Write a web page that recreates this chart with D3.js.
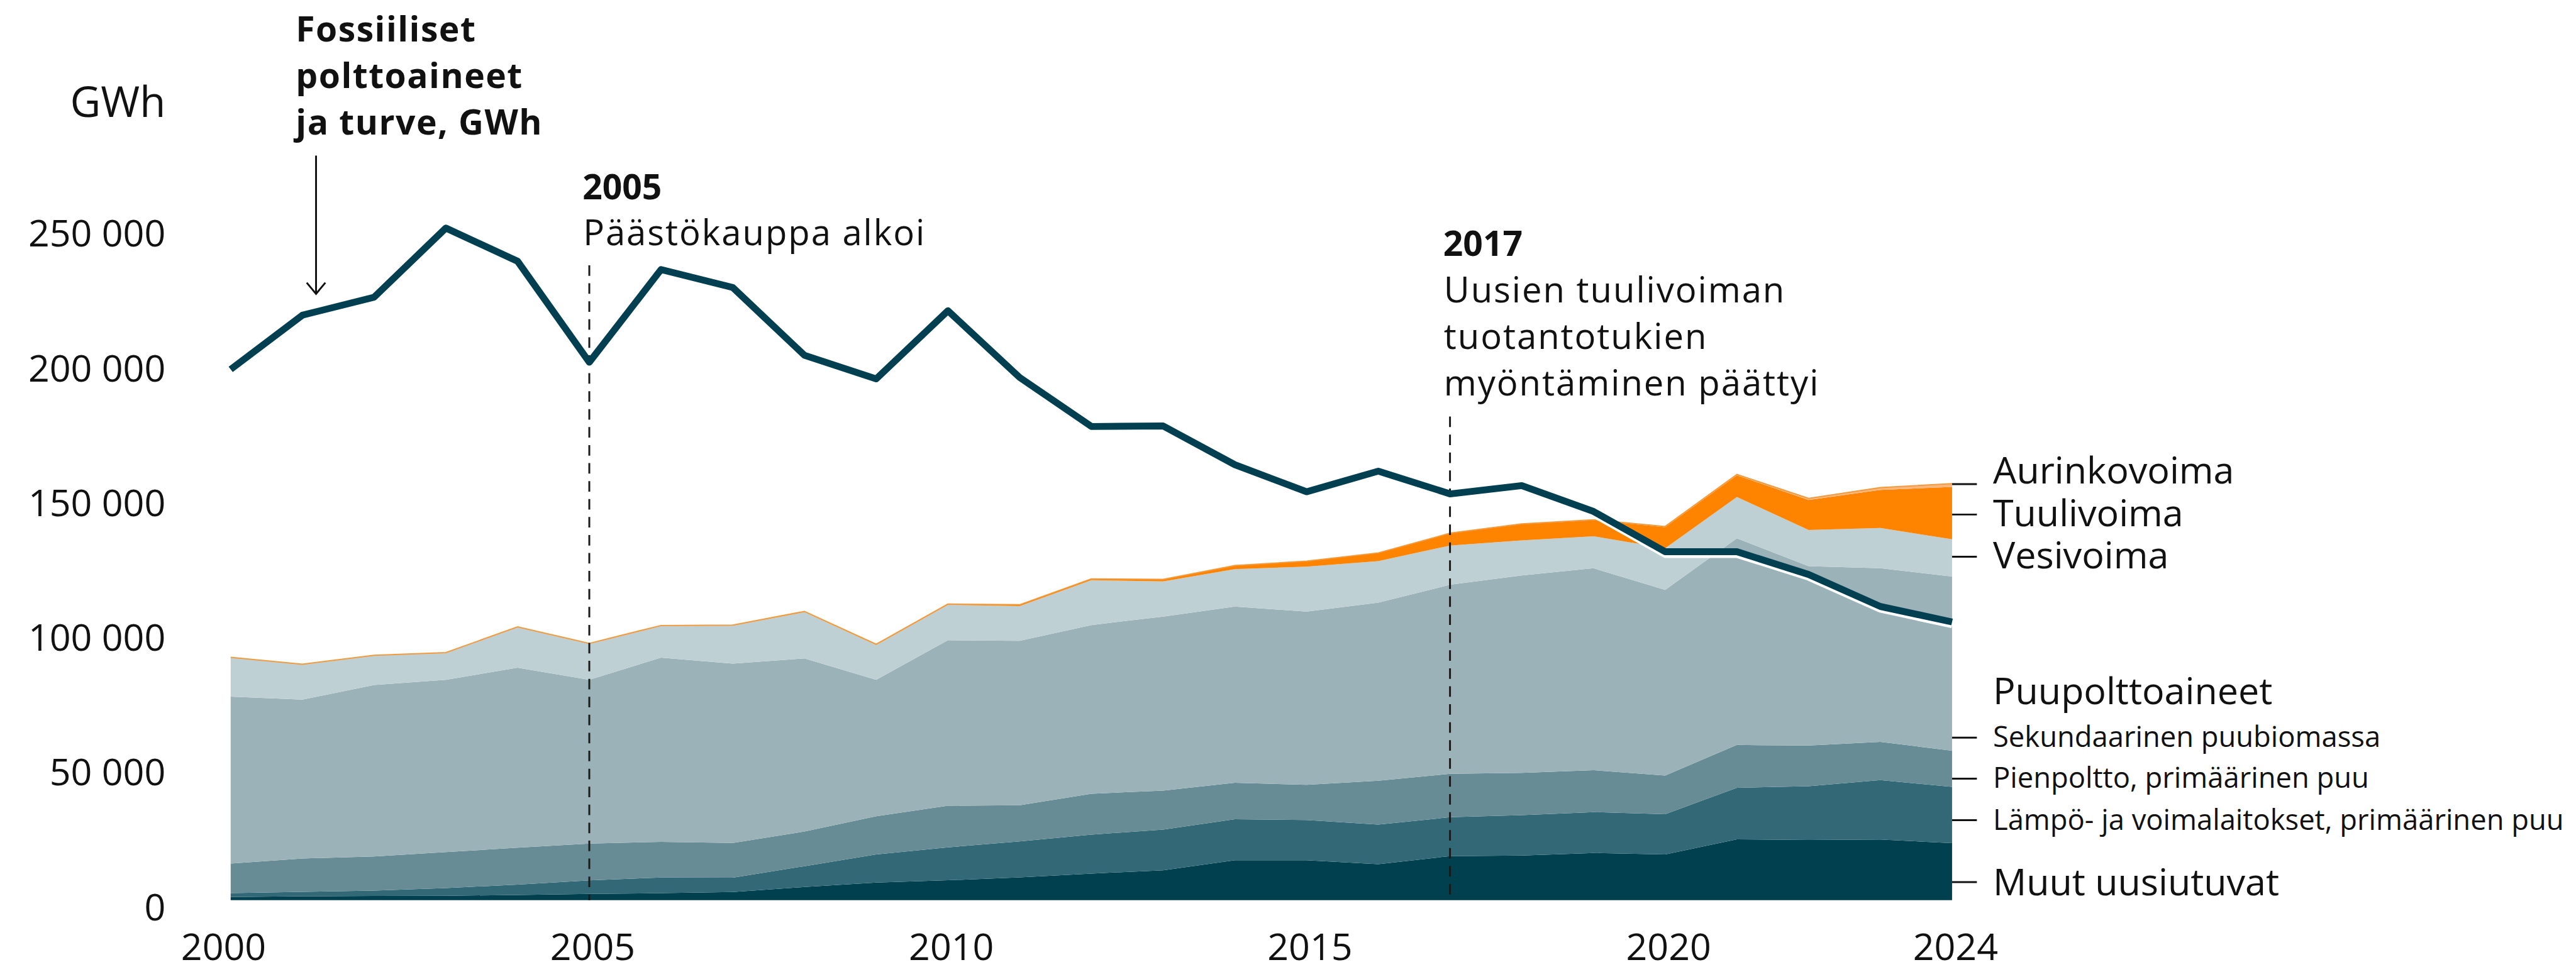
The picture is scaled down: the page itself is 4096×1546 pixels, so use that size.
<!DOCTYPE html>
<html>
<head>
<meta charset="utf-8">
<script src="https://cdn.jsdelivr.net/npm/d3@7"></script>
<style>
  body { margin: 0; background: #fff; }
  svg text { font-family: "Open Sans", "DejaVu Sans", sans-serif; fill: #111; }
</style>
</head>
<body>
<div id="chart"></div>
<script>
// ---- data (GWh) ----
const years = [2000, 2001, 2002, 2003, 2004, 2005, 2006, 2007, 2008, 2009, 2010, 2011, 2012,
               2013, 2014, 2015, 2016, 2017, 2018, 2019, 2020, 2021, 2022, 2023, 2024];

const muut          = [1150, 1430, 1530, 1630, 1910, 2300, 2580, 3000, 4870, 6500, 7370, 8450, 9870,
                       11080, 14800, 14800, 13340, 16340, 16570, 17490, 16950, 22550, 22320, 22480, 21170];
const lampo         = [1430, 1630, 2010, 2860, 3820, 5060, 5820, 5300, 7730, 10450, 12230, 13350, 14430,
                       15120, 15220, 14920, 14730, 14420, 14950, 15180, 14960, 19170, 19950, 22090, 20870];
const pienpoltto    = [10970, 12400, 12680, 13340, 13730, 13630, 13250, 12900, 12860, 14200, 15450, 13400, 15200,
                       14420, 13550, 13060, 16280, 16110, 15730, 15580, 14340, 15880, 15100, 14180, 13410];
const sekundaarinen = [62010, 58950, 63630, 63930, 66790, 60770, 68350, 66600, 64240, 50650, 61400, 61050, 62600,
                       64630, 65390, 64320, 66100, 70180, 73250, 74930, 68870, 76700, 66580, 64430, 64660];
const vesivoima     = [14500, 13080, 10970, 10030, 15060, 13360, 11780, 14100, 17200, 12900, 13150, 12900, 16650,
                       13050, 13890, 16680, 15400, 14570, 13040, 11890, 15480, 15350, 13420, 14960, 13810];
const tuulivoima    = [80, 70, 60, 90, 120, 170, 150, 190, 260, 280, 290, 480, 490,
                       770, 1300, 2000, 3000, 4500, 5980, 5940, 7830, 8030, 11130, 14110, 19460];
const aurinkovoima  = [0, 0, 0, 0, 0, 0, 0, 0, 0, 0, 10, 10, 10,
                       10, 20, 30, 40, 70, 110, 160, 250, 330, 600, 900, 1200];

const fossiiliset   = [197000, 217100, 223800, 249450, 237140, 199640, 234050, 227380, 202210, 193470, 218760, 193990, 175800,
                       176000, 161620, 151570, 159230, 150790, 153860, 144270, 129320, 129320, 120870, 109000, 103240];

const keys = ["muut", "lampo", "pienpoltto", "sekundaarinen", "vesivoima", "tuulivoima", "aurinkovoima"];
const colors = ["#00404f", "#336877", "#688c95", "#9bb2b8", "#bfd0d4", "#fe8400", "#fbb57d"];

const yTicks = [0, 50000, 100000, 150000, 200000, 250000];
const xTicks = [2000, 2005, 2010, 2015, 2020, 2024];

// right-hand labels: text, tick y, baseline y, big/small
const seriesLabels = [
    {text: "Aurinkovoima", tick: 781, base: 780, big: true},
    {text: "Tuulivoima", tick: 830, base: 849, big: true},
    {text: "Vesivoima", tick: 898, base: 917, big: true},
    {text: "Puupolttoaineet", tick: null, base: 1136, big: true},
    {text: "Sekundaarinen puubiomassa", tick: 1190, base: 1205, big: false},
    {text: "Pienpoltto, primäärinen puu", tick: 1256, base: 1271, big: false},
    {text: "Lämpö- ja voimalaitokset, primäärinen puu", tick: 1323, base: 1339, big: false},
    {text: "Muut uusiutuvat", tick: 1423, base: 1444, big: true}
];

const events = [
    {year: 2005, top: 428, base: 321, title: "2005", lines: ["Päästökauppa alkoi"]},
    {year: 2017, top: 672, base: 413, title: "2017", lines: ["Uusien tuulivoiman", "tuotantotukien", "myöntäminen päättyi"]}
];

// ---- layout (reference pixels, scaled down to the window) ----
const scale = 0.986;
const width = 4154, height = 1568;

const svg = d3.select("#chart").append("svg")
    .attr("width", Math.round(width * scale))
    .attr("height", Math.round(height * scale));

const g = svg.append("g").attr("transform", `scale(${scale})`);

const x = d3.scaleLinear().domain([2000, 2024]).range([372, 3148]);
const y = d3.scaleLinear().domain([0, 250000]).range([1452, 365.5]);

const table = years.map((yr, i) => ({
    year: yr,
    muut: muut[i], lampo: lampo[i], pienpoltto: pienpoltto[i], sekundaarinen: sekundaarinen[i],
    vesivoima: vesivoima[i], tuulivoima: tuulivoima[i], aurinkovoima: aurinkovoima[i]
}));

const stacked = d3.stack().keys(keys)(table);

const area = d3.area()
    .x(d => x(d.data.year))
    .y0(d => y(d[0]))
    .y1(d => y(d[1]));

g.selectAll(".layer")
    .data(stacked)
    .enter().append("path")
    .attr("class", "layer")
    .attr("fill", (d, i) => colors[i])
    .attr("d", area);

// thin orange edge along the top of the stack
g.append("path")
    .datum(stacked[stacked.length - 1])
    .attr("fill", "none")
    .attr("stroke", "#f39a3d")
    .attr("stroke-width", 2)
    .attr("d", d3.line().x(d => x(d.data.year)).y(d => y(d[1])));

// event lines + texts
events.forEach(ev => {
    g.append("line")
        .attr("x1", x(ev.year)).attr("x2", x(ev.year))
        .attr("y1", ev.top).attr("y2", y(0))
        .attr("stroke", "#1a1a1a")
        .attr("stroke-width", 3)
        .attr("stroke-dasharray", "17,12");

    g.append("text")
        .attr("x", x(ev.year) - 11)
        .attr("y", ev.base)
        .style("font-size", "56px")
        .style("font-weight", 700)
        .text(ev.title);

    ev.lines.forEach((t, i) => {
        g.append("text")
            .attr("x", x(ev.year) - 10)
            .attr("y", ev.base + 75 * (i + 1))
            .style("font-size", "57px")
            .style("letter-spacing", "2px")
            .text(t);
    });
});

// fossil fuel line with white edge below
const fossilLine = d3.line()
    .x((d, i) => x(years[i]))
    .y(d => y(d));

g.append("path")
    .datum(fossiiliset)
    .attr("fill", "none")
    .attr("stroke", "#fff")
    .attr("stroke-width", 10)
    .attr("stroke-linejoin", "round")
    .attr("transform", "translate(0,5)")
    .attr("d", fossilLine);

g.append("path")
    .datum(fossiiliset)
    .attr("fill", "none")
    .attr("stroke", "#013f51")
    .attr("stroke-width", 11)
    .attr("stroke-linejoin", "round")
    .attr("d", fossilLine);

// y axis
const fi = d3.formatLocale({decimal: ",", thousands: "\u00a0", grouping: [3], currency: ["", " €"]});

const yAxis = g.append("g")
    .attr("transform", "translate(267,0)")
    .call(d3.axisLeft(y).tickValues(yTicks).tickSize(0).tickPadding(0).tickFormat(fi.format(",")));
yAxis.select(".domain").remove();
yAxis.selectAll("text")
    .attr("dy", null)
    .attr("y", 32)
    .style("font-size", "60px")
    .style("font-family", "'Open Sans', sans-serif")
    .attr("fill", "#111");

g.append("text")
    .attr("x", 267)
    .attr("y", 189)
    .attr("text-anchor", "end")
    .style("font-size", "68px")
    .text("GWh");

// x axis (kept just inside the bottom edge)
const xAxis = g.append("g")
    .attr("transform", `translate(0,${y(0)})`)
    .call(d3.axisBottom(x).tickValues(xTicks).tickSize(0).tickFormat(d3.format("d")));
xAxis.select(".domain").remove();
xAxis.selectAll("text")
    .attr("dy", null)
    .attr("y", 97)
    .attr("x", d => d === 2000 ? -12 : 5)
    .style("font-size", "60px")
    .style("font-family", "'Open Sans', sans-serif")
    .attr("fill", "#111");

// fossil fuel annotation with arrow
const fossilTitle = ["Fossiiliset", "polttoaineet", "ja turve, GWh"];
fossilTitle.forEach((t, i) => {
    g.append("text")
        .attr("x", 477)
        .attr("y", 67 + 75 * i)
        .style("font-size", "56px")
        .style("font-weight", 700)
        .style("letter-spacing", "1.5px")
        .text(t);
});

const arrowX = x(2001) + 22;
g.append("line")
    .attr("x1", arrowX).attr("x2", arrowX)
    .attr("y1", 251).attr("y2", 473)
    .attr("stroke", "#111").attr("stroke-width", 3);
g.append("path")
    .attr("d", `M${arrowX - 15},456 L${arrowX},474 L${arrowX + 15},456`)
    .attr("fill", "none")
    .attr("stroke", "#111")
    .attr("stroke-width", 3);

// series labels on the right
const labelX = x(2024) + 66;
seriesLabels.forEach(s => {
    if (s.tick !== null) {
        g.append("line")
            .attr("x1", x(2024)).attr("x2", x(2024) + 40)
            .attr("y1", s.tick).attr("y2", s.tick)
            .attr("stroke", "#111").attr("stroke-width", 3);
    }
    g.append("text")
        .attr("x", labelX)
        .attr("y", s.base)
        .style("font-size", s.big ? "60px" : "46px")
        .text(s.text);
});
</script>
</body>
</html>
